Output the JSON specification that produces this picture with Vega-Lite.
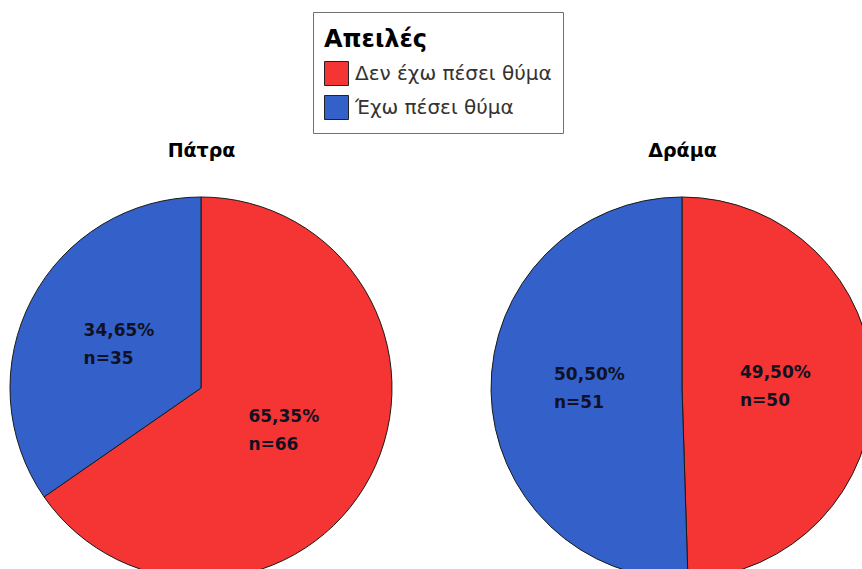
{
  "$schema": "https://vega.github.io/schema/vega-lite/v6.json",
  "autosize": {"type": "none"},
  "width": 862,
  "height": 362,
  "padding": {"top": 207, "left": 0, "right": 0, "bottom": 0},
  "background": "white",
  "config": {"view": {"stroke": null}},
  "data": {
    "values": [
      {"city": "Πάτρα", "category": "Δεν έχω πέσει θύμα", "n": 66},
      {"city": "Πάτρα", "category": "Έχω πέσει θύμα", "n": 35},
      {"city": "Δράμα", "category": "Δεν έχω πέσει θύμα", "n": 50},
      {"city": "Δράμα", "category": "Έχω πέσει θύμα", "n": 51}
    ]
  },
  "transform": [
    {"stack": "n", "groupby": ["city"], "offset": "normalize", "sort": [{"field": "category", "order": "descending"}], "as": ["start", "end"]},
    {"calculate": "(datum.start + datum.end) / 2", "as": "mid"},
    {"calculate": "[replace(format((datum.end - datum.start) * 100, '.2f'), '.', ',') + '%', 'n=' + datum.n]", "as": "lbl"}
  ],
  "encoding": {
    "x": {
      "field": "city", "type": "nominal",
      "scale": {"type": "point", "domain": ["Πάτρα", "Δράμα"], "range": [201, 682], "padding": 0},
      "axis": {
        "orient": "top", "title": null, "domain": false, "ticks": false, "grid": false,
        "labelFont": "DejaVu Sans", "labelFontSize": 19, "labelFontWeight": "bold",
        "labelColor": "#000000", "labelPadding": 47, "labelAngle": 0
      }
    }
  },
  "layer": [
    {
      "mark": {"type": "arc", "outerRadius": 191, "stroke": "#1a1a1a", "strokeWidth": 1},
      "encoding": {
        "theta": {"field": "start", "type": "quantitative", "scale": {"domain": [0, 1], "range": [0, 6.283185307179586]}},
        "theta2": {"field": "end"},
        "color": {
          "field": "category", "type": "nominal",
          "scale": {"domain": ["Δεν έχω πέσει θύμα", "Έχω πέσει θύμα"], "range": ["#f43534", "#3461c9"]},
          "legend": {
            "title": "Απειλές",
            "orient": "none", "legendX": 313, "legendY": -195,
            "padding": 11, "strokeColor": "#707070", "fillColor": "white",
            "titleFont": "DejaVu Sans", "titleFontSize": 24, "titleFontWeight": "bold", "titleColor": "#000000",
            "titleBaseline": "line-top", "titleLineHeight": 35, "titlePadding": 14,
            "labelFont": "DejaVu Sans", "labelFontSize": 20, "labelColor": "#333333", "labelOffset": 6, "labelLimit": 400,
            "symbolType": "square", "symbolSize": 576, "symbolStrokeColor": "#222222", "symbolStrokeWidth": 1, "symbolOpacity": 1,
            "rowPadding": 5
          }
        }
      }
    },
    {
      "mark": {"type": "text", "radius": 93, "font": "DejaVu Sans", "fontSize": 17, "fontWeight": "bold", "fill": "#111122", "align": "left", "baseline": "middle", "lineHeight": 28, "dx": -35, "dy": -14},
      "encoding": {
        "theta": {"field": "mid", "type": "quantitative", "scale": {"domain": [0, 1], "range": [0, 6.283185307179586]}},
        "text": {"field": "lbl"}
      }
    }
  ]
}
